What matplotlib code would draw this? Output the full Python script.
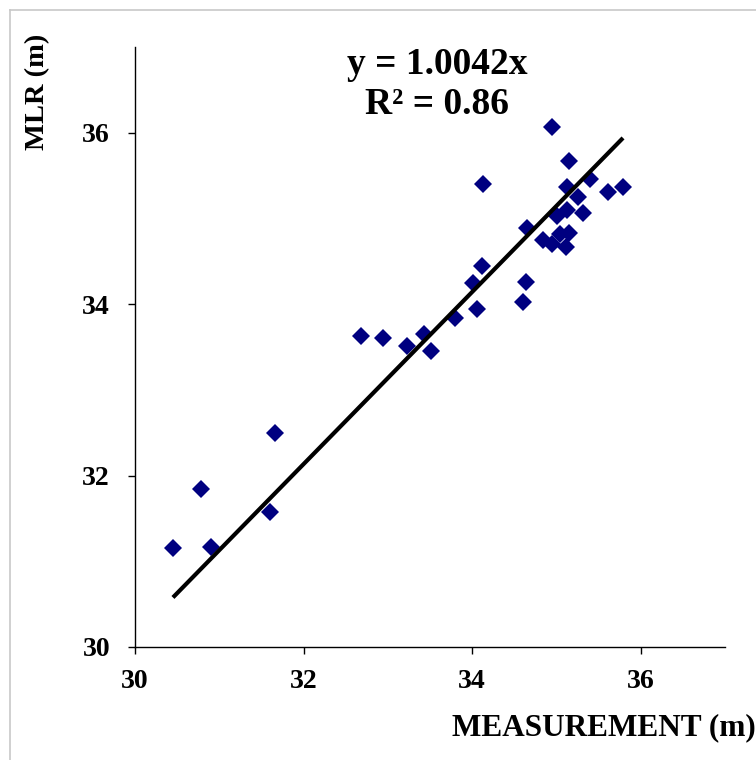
import numpy as np
import matplotlib
matplotlib.use("Agg")
import matplotlib.pyplot as plt
from matplotlib.lines import Line2D

measurement = [30.45, 30.78, 30.90, 31.60, 31.66, 32.68, 32.94, 33.23, 33.43,
               33.51, 33.80, 34.01, 34.06, 34.12, 34.13, 34.60, 34.64, 34.65,
               34.84, 34.95, 34.95, 35.01, 35.04, 35.11, 35.12, 35.12, 35.15,
               35.15, 35.26, 35.31, 35.40, 35.61, 35.79]
mlr = [31.16, 31.84, 31.17, 31.58, 32.50, 33.63, 33.61, 33.51, 33.65,
       33.45, 33.84, 34.25, 33.94, 34.45, 35.40, 34.03, 34.26, 34.89,
       34.75, 34.70, 36.07, 35.03, 34.82, 34.67, 35.10, 35.37, 34.83,
       35.67, 35.25, 35.06, 35.46, 35.31, 35.37]

slope = 1.0042
r2 = 0.86
ticks = [30, 32, 34, 36]

plt.rcParams["font.family"] = ["Liberation Serif", "DejaVu Serif"]
plt.rcParams["font.weight"] = "bold"

fig = plt.figure(figsize=(7.56, 7.60), dpi=100)
ax = fig.add_axes([0.1786, 0.1487, 0.959 - 0.1786, 0.938 - 0.1487])

# light grey page frame (left and top edges)
fig.add_artist(Line2D([9.5 / 756, 9.5 / 756], [0, 1 - 9.5 / 760],
                      color="#c8c8c8", lw=1.2))
fig.add_artist(Line2D([9.5 / 756, 1], [1 - 9.5 / 760, 1 - 9.5 / 760],
                      color="#c8c8c8", lw=1.2))

ax.plot(measurement, mlr, linestyle="none", marker="D", markersize=9,
        color="#000080", markeredgewidth=0)

# linear trendline through the origin, spanning the data range
xs = np.array([min(measurement), max(measurement)])
ax.plot(xs, slope * xs, color="black", lw=3.0, solid_capstyle="butt")

ax.set_xlim(30, 37)
ax.set_ylim(30, 37)
ax.set_xticks(ticks)
ax.set_yticks(ticks)
ax.spines["top"].set_visible(False)
ax.spines["right"].set_visible(False)
for side in ["left", "bottom"]:
    ax.spines[side].set_linewidth(1.0)
ax.tick_params(axis="both", direction="out", length=5, width=1.0,
               labelsize=20)
ax.tick_params(axis="x", pad=11)
ax.tick_params(axis="y", pad=13)

ax.text(0.512, 0.937, "y = %.4fx\nR\u00b2 = %.2f" % (slope, r2),
        transform=ax.transAxes, ha="center", va="center", fontsize=27,
        fontweight="bold", linespacing=1.18)

fig.text(1.0, 0.043, "MEASUREMENT (m)", ha="right", va="center",
         fontsize=22.5, fontweight="bold")
fig.text(0.05, 0.879, "MLR (m)", ha="center", va="center", rotation=90,
         fontsize=20.5, fontweight="bold")

fig.savefig("out.png", dpi=100)
